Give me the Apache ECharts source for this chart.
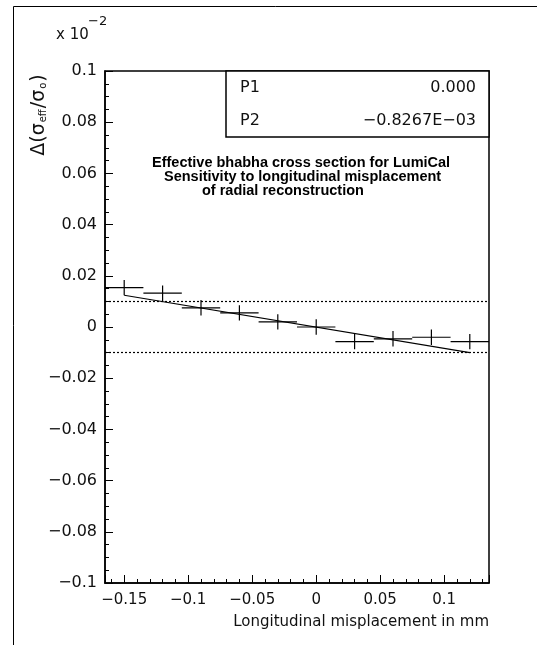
<!DOCTYPE html>
<html>
<head>
<meta charset="utf-8">
<script src="https://cdn.jsdelivr.net/npm/echarts@6/dist/echarts.min.js"></script>
<style>
    html, body { margin: 0; padding: 0; background: #fff; }
    #chart { width: 537px; height: 645px; }
</style>
</head>
<body>
<div id="chart"></div>
<script>
// misplacement in mm, relative change of sigma_eff (in units of 10^-2)
var xShift = [-0.15, -0.12, -0.09, -0.06, -0.03, 0, 0.03, 0.06, 0.09, 0.12];
var yDelta = [0.0154, 0.0132, 0.0075, 0.0055, 0.0020, 0.0000, -0.0057, -0.0046, -0.0040, -0.0057];
var xErr = [0.015, 0.015, 0.015, 0.015, 0.015, 0.015, 0.015, 0.015, 0.015, 0.015];
var yErr = [0.003, 0.003, 0.003, 0.003, 0.003, 0.003, 0.003, 0.003, 0.003, 0.003];
// straight line fit, end points as drawn
var fitLine = [[-0.15, 0.0124], [0.12, -0.0100]];
// dotted reference levels
var bandLevels = [0.01, -0.01];
var fitPars = [['P1', '0.000'], ['P2', '\u22120.8267E\u221203']];
var titleLines = [
    'Effective bhabha cross section for LumiCal',
    'Sensitivity to longitudinal misplacement',
    'of radial reconstruction'
];

var chart = echarts.init(document.getElementById('chart'));

var points = [];
for (var i = 0; i < xShift.length; i++) {
    points.push([xShift[i], yDelta[i], xErr[i], yErr[i]]);
}

function minus(v) {
    return String(v).replace('-', '\u2212');
}

function renderCross(params, api) {
    var x = api.value(0), y = api.value(1), ex = api.value(2), ey = api.value(3);
    var l = api.coord([x - ex, y]), r = api.coord([x + ex, y]);
    var t = api.coord([x, y + ey]), b = api.coord([x, y - ey]);
    var st = { stroke: '#000', lineWidth: 1.2 };
    return {
        type: 'group',
        children: [
            { type: 'line', shape: { x1: l[0], y1: l[1], x2: r[0], y2: r[1] }, style: st },
            { type: 'line', shape: { x1: t[0], y1: t[1], x2: b[0], y2: b[1] }, style: st }
        ]
    };
}

var labelFont = 'DejaVu Sans, Verdana, sans-serif';

var graphics = [
    // outer frame
    { type: 'line', shape: { x1: 13.5, y1: 6.5, x2: 537, y2: 6.5 }, style: { stroke: '#000', lineWidth: 1 } },
    { type: 'line', shape: { x1: 13.5, y1: 6.5, x2: 13.5, y2: 645 }, style: { stroke: '#000', lineWidth: 1 } },
    // exponent
    {
        type: 'text', x: 56, y: 35,
        style: { text: 'x 10', verticalAlign: 'middle', fontFamily: labelFont, fontSize: 15, fill: '#111' }
    },
    {
        type: 'text', x: 88, y: 22,
        style: { text: '\u22122', verticalAlign: 'middle', fontFamily: labelFont, fontSize: 13, fill: '#111' }
    },
    // y axis title
    {
        type: 'text', x: 39, y: 115, rotation: Math.PI / 2,
        style: {
            text: '{a|\u0394(\u03c3}{s|eff}{a|/\u03c3}{s|o}{a|)}',
            align: 'center', verticalAlign: 'middle',
            rich: {
                a: { fontFamily: labelFont, fontSize: 19, fill: '#111' },
                s: { fontFamily: labelFont, fontSize: 10, fill: '#111', padding: [9, 1, 0, 1] }
            }
        }
    },
    // x axis title
    {
        type: 'text', x: 489, y: 622,
        style: {
            text: 'Longitudinal misplacement in mm', align: 'right', verticalAlign: 'middle',
            fontFamily: labelFont, fontSize: 15, fill: '#111'
        }
    },
    // fit parameter box
    {
        type: 'rect', shape: { x: 226, y: 71, width: 263, height: 66 },
        style: { fill: '#fff', stroke: '#000', lineWidth: 1.5 }, z: 10
    }
];

fitPars.forEach(function (p, k) {
    graphics.push({
        type: 'text', x: 240, y: 88 + k * 33, z: 11,
        style: { text: p[0], verticalAlign: 'middle', fontFamily: labelFont, fontSize: 16, fill: '#111' }
    });
    graphics.push({
        type: 'text', x: 476, y: 88 + k * 33, z: 11,
        style: { text: p[1], align: 'right', verticalAlign: 'middle', fontFamily: labelFont, fontSize: 16, fill: '#111' }
    });
});

var titleX = [152, 164, 202];
titleLines.forEach(function (s, k) {
    graphics.push({
        type: 'text', x: titleX[k], y: 163 + k * 14,
        style: {
            text: s, verticalAlign: 'middle',
            fontFamily: 'Liberation Sans, Arial, sans-serif', fontWeight: 'bold', fontSize: 14.5, fill: '#000'
        }
    });
});

var option = {
    animation: false,
    grid: {
        left: 105, right: 48, top: 71, bottom: 62,
        show: true, borderColor: '#000', borderWidth: 1.5
    },
    xAxis: {
        type: 'value', min: -0.165, max: 0.135, splitNumber: 6,
        axisLine: { onZero: false, lineStyle: { color: '#000', width: 1.5 } },
        axisTick: { inside: true, length: 8, lineStyle: { color: '#000' } },
        minorTick: { show: true, splitNumber: 5, length: 4, lineStyle: { color: '#000' } },
        splitLine: { show: false },
        axisLabel: {
            margin: 10, fontFamily: labelFont, fontSize: 15, color: '#111',
            showMinLabel: false, showMaxLabel: false, formatter: minus
        }
    },
    yAxis: {
        type: 'value', min: -0.1, max: 0.1, interval: 0.02,
        axisLine: { onZero: false, lineStyle: { color: '#000', width: 1.5 } },
        axisTick: { inside: true, length: 8, lineStyle: { color: '#000' } },
        minorTick: { show: true, splitNumber: 4, length: 4, lineStyle: { color: '#000' } },
        splitLine: { show: false },
        axisLabel: { margin: 8, fontFamily: labelFont, fontSize: 16, color: '#111', formatter: minus }
    },
    series: [
        {
            type: 'custom', renderItem: renderCross, data: points,
            encode: { x: 0, y: 1 }, z: 3
        },
        {
            type: 'line', data: fitLine, symbol: 'none',
            lineStyle: { color: '#000', width: 1.2 }, z: 2,
            markLine: {
                silent: true, symbol: 'none', label: { show: false },
                lineStyle: { color: '#000', type: [2, 2], width: 1.2 },
                data: bandLevels.map(function (v) { return { yAxis: v }; })
            }
        }
    ],
    graphic: graphics
};

chart.setOption(option);
</script>
</body>
</html>
